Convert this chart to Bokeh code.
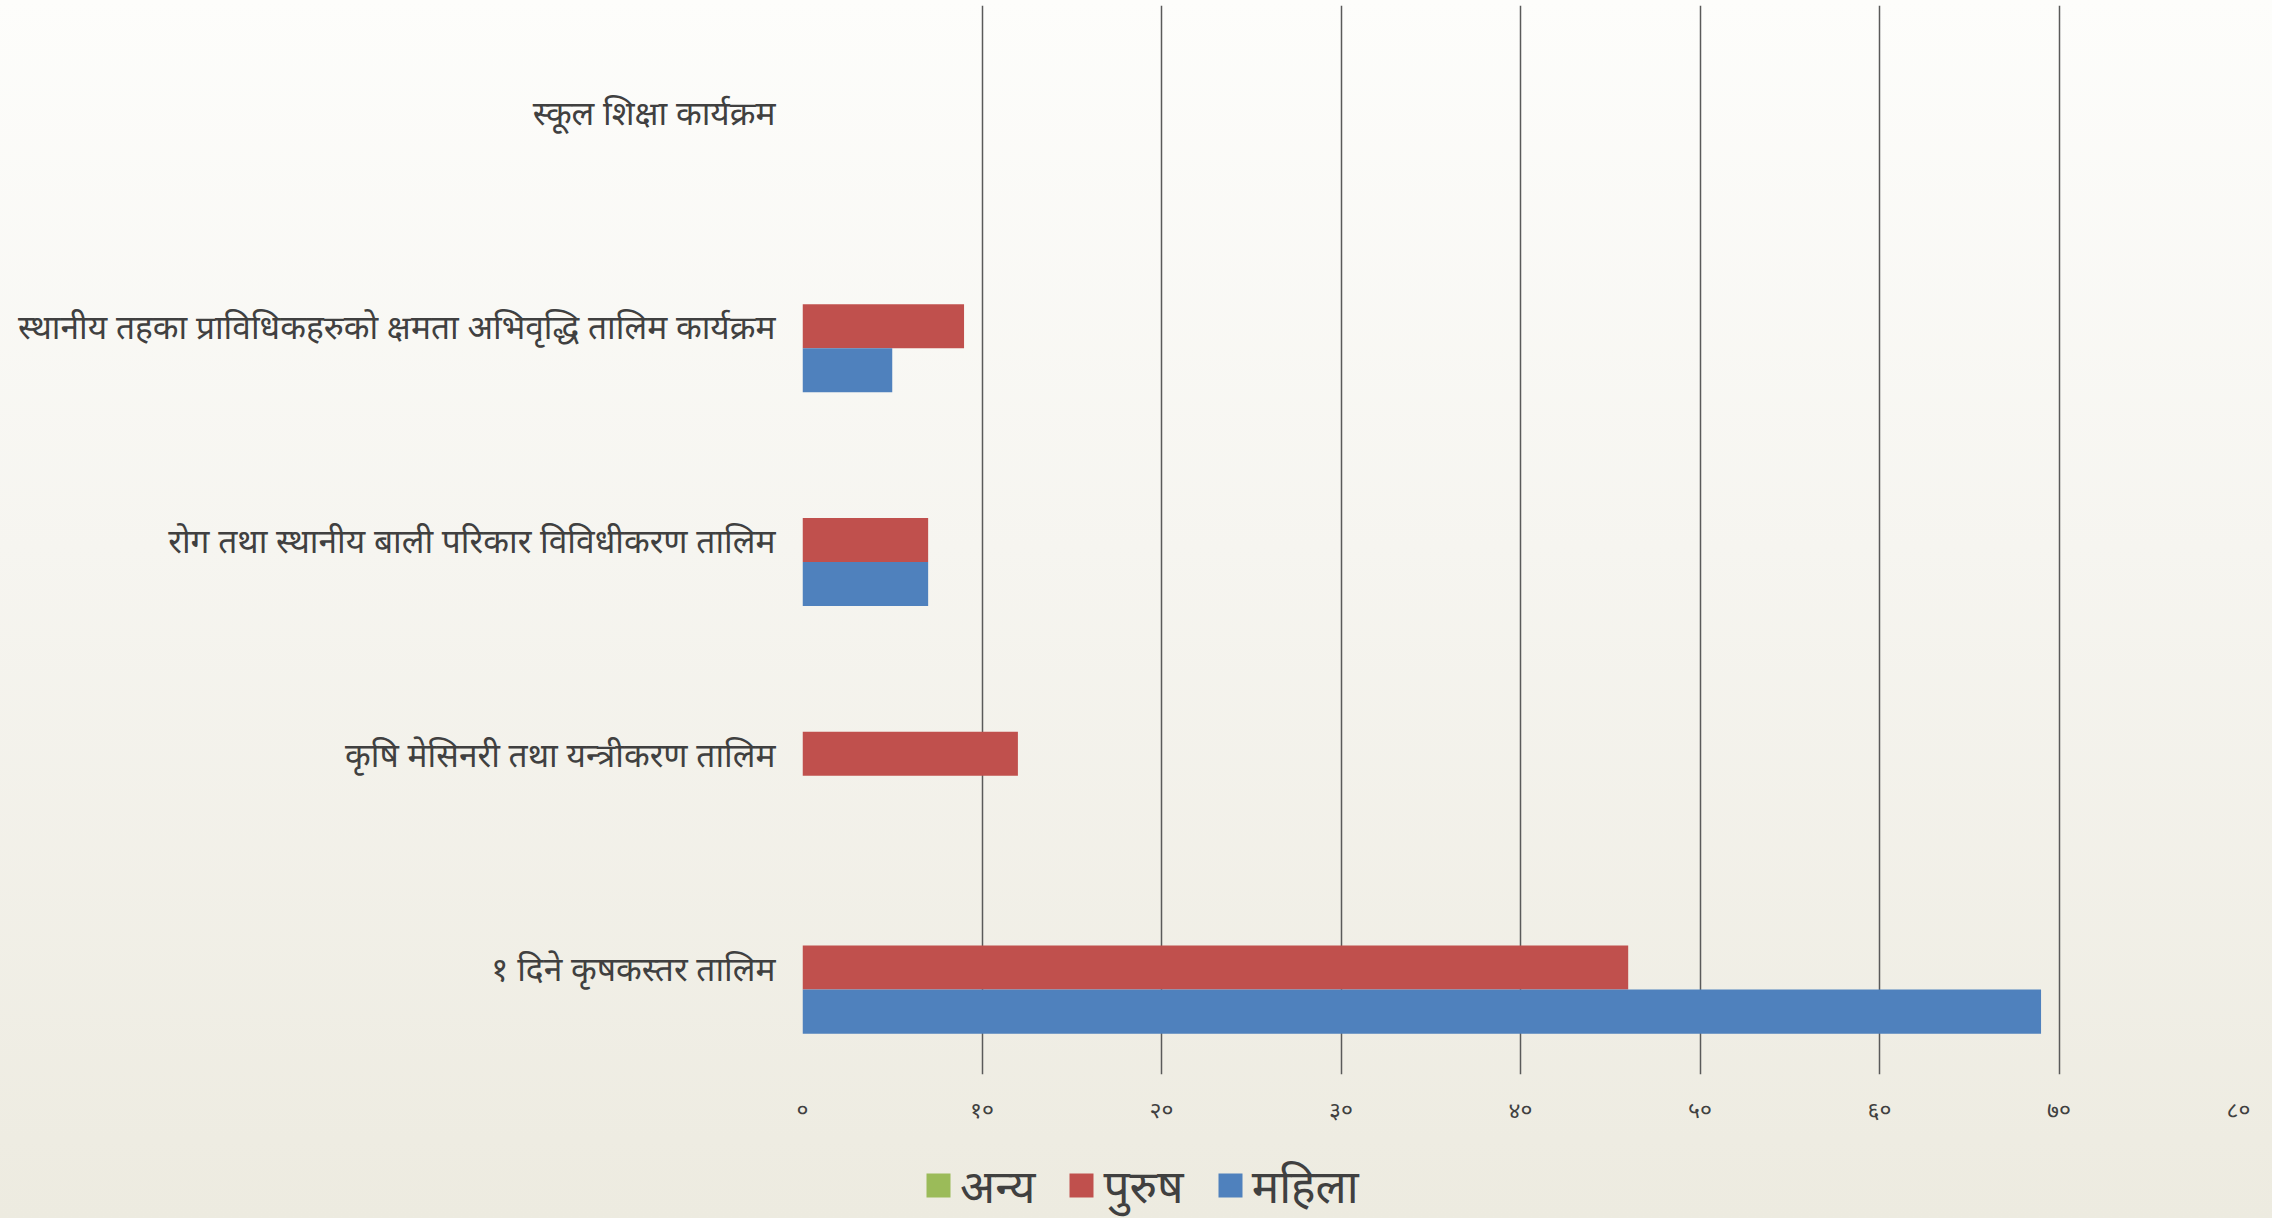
from bokeh.plotting import figure
from bokeh.layouts import column
from bokeh.models import FactorRange, Range1d, FixedTicker, Legend, LegendItem, ColumnDataSource
from bokeh.transform import dodge
from bokeh.embed import file_html
from bokeh.resources import INLINE

# ---- data (top-to-bottom order as shown) ----
categories = [
    "स्कूल शिक्षा कार्यक्रम",
    "स्थानीय तहका प्राविधिकहरुको क्षमता अभिवृद्धि तालिम कार्यक्रम",
    "रोग तथा स्थानीय बाली परिकार विविधीकरण तालिम",
    "कृषि मेसिनरी तथा यन्त्रीकरण तालिम",
    "१ दिने कृषकस्तर तालिम",
]
series_names = ["अन्य", "पुरुष", "महिला"]
anya = [0, 0, 0, 0, 0]
purush = [0, 9, 7, 12, 46]
mahila = [0, 5, 7, 0, 69]
x_ticks = [0, 10, 20, 30, 40, 50, 60, 70, 80]
x_tick_labels = ["०", "१०", "२०", "३०", "४०", "५०", "६०", "७०", "८०"]

colors = ["#9BBB59", "#C0504D", "#4F81BD"]
FONT = "Noto Sans"

source = ColumnDataSource(data=dict(cat=categories, anya=anya, purush=purush, mahila=mahila))
fields = ["anya", "purush", "mahila"]
bar_h = 0.206
offsets = [bar_h, 0.0, -bar_h]

# ---------------- main chart ----------------
p = figure(
    frame_width=1436, frame_height=1069,
    y_range=FactorRange(factors=list(reversed(categories))),
    x_range=Range1d(0, 80),
    output_backend="svg", toolbar_location=None,
    min_border_left=802, min_border_right=34, min_border_top=5, min_border_bottom=66,
)
p.background_fill_color = None
p.border_fill_color = None
p.outline_line_color = None
p.styles = {"background": "linear-gradient(to bottom, #FDFDFB 0%, #F6F5F0 48%, #EEECE2 100%)"}

for f, off, c in zip(fields, offsets, colors):
    p.hbar(y=dodge("cat", off, range=p.y_range), left=0, right=f, height=bar_h,
           source=source, fill_color=c, line_color=None)

p.xaxis.ticker = FixedTicker(ticks=x_ticks)
p.xaxis.major_label_overrides = {t: l for t, l in zip(x_ticks, x_tick_labels)}
p.xaxis.axis_line_color = None
p.xaxis.major_tick_in = 0
p.xaxis.major_tick_out = 0
p.xaxis.minor_tick_line_color = None
p.xaxis.major_label_standoff = 18
p.xaxis.major_label_text_font = FONT
p.xaxis.major_label_text_font_size = "23px"
p.xaxis.major_label_text_color = "#404040"

p.yaxis.axis_line_color = None
p.yaxis.major_tick_in = 0
p.yaxis.major_tick_out = 0
p.yaxis.minor_tick_line_color = None
p.yaxis.major_label_standoff = 27
p.yaxis.major_label_text_font = FONT
p.yaxis.major_label_text_font_size = "33.5px"
p.yaxis.major_label_text_color = "#404040"

p.ygrid.grid_line_color = None
p.xgrid.grid_line_color = "#5A5A5A"
p.xgrid.grid_line_width = 1.5

# ---------------- legend strip ----------------
pl = figure(
    frame_width=2272, frame_height=78,
    y_range=FactorRange(factors=list(reversed(categories))),
    x_range=Range1d(-2, -1),
    output_backend="svg", toolbar_location=None,
    x_axis_type=None, y_axis_type=None,
    min_border=0, min_border_left=0, min_border_right=0, min_border_top=0, min_border_bottom=0,
)
pl.background_fill_color = None
pl.border_fill_color = None
pl.outline_line_color = None
pl.grid.visible = False
pl.styles = {"background": "linear-gradient(to bottom, #EEECE2 0%, #EDEBE0 100%)"}

leg_renderers = []
for f, off, c in zip(fields, offsets, colors):
    r = pl.hbar(y=dodge("cat", off, range=pl.y_range), left=0, right=f, height=bar_h,
                source=source, fill_color=c, line_color=None)
    leg_renderers.append(r)

legend = Legend(
    items=[LegendItem(label=n, renderers=[r]) for n, r in zip(series_names, leg_renderers)],
    orientation="horizontal",
    location=(923, 2),
    padding=0, margin=0, spacing=31,
    glyph_width=30, glyph_height=30, label_standoff=7,
    label_text_font=FONT, label_text_font_size="46px", label_text_color="#404040",
    background_fill_alpha=0, border_line_alpha=0,
)
pl.add_layout(legend, "center")

layout = column(p, pl, spacing=0)
open("out.html", "w").write(file_html(layout, INLINE))
